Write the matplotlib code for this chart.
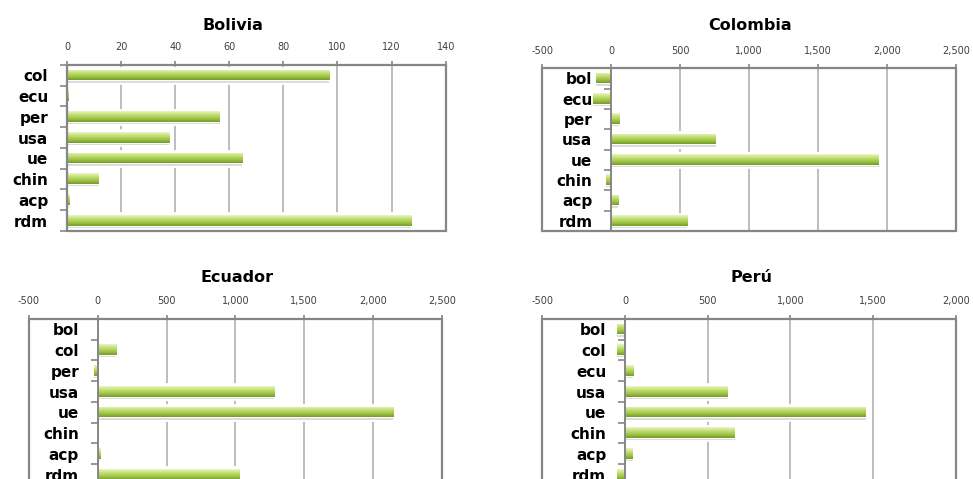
import matplotlib
matplotlib.use("Agg")
import matplotlib.pyplot as plt
import numpy as np
from matplotlib.colors import LinearSegmentedColormap
from matplotlib.patches import Rectangle
from matplotlib.ticker import FuncFormatter, FixedLocator, MultipleLocator

# ---- data ----
bolivia_cats = ["col", "ecu", "per", "usa", "ue", "chin", "acp", "rdm"]
bolivia_vals = [97, 0.5, 56.5, 37.8, 64.8, 11.7, 1.1, 127.2]

colombia_cats = ["bol", "ecu", "per", "usa", "ue", "chin", "acp", "rdm"]
colombia_vals = [-110, -130, 60, 760, 1943, -41, 51, 552]

ecuador_cats = ["bol", "col", "per", "usa", "ue", "chin", "acp", "rdm"]
ecuador_vals = [5, 131, -31, 1281, 2149, 3, 17, 1027]

peru_cats = ["bol", "col", "ecu", "usa", "ue", "chin", "acp", "rdm"]
peru_vals = [-50, -46, 50, 621, 1457, 665, 46, -50]

W, H = 973, 479
fig = plt.figure(figsize=(W / 100, H / 100), dpi=100)

cmap = LinearSegmentedColormap.from_list(
    "g", [(0, "#eaf5cc"), (0.3, "#c8e27a"), (0.7, "#9cc444"), (1, "#739a2c")])
grad = np.linspace(0, 1, 64).reshape(-1, 1)

FRAME = "#868686"
GRID = "#b8b8b8"


def fmt(v, pos):
    s = "{:,.0f}".format(abs(v))
    return ("-" + s) if v < 0 else s


def panel(px_left, px_top, px_right, px_bottom, cats, vals, xlim, step,
          title, title_xy):
    ax = fig.add_axes([px_left / W, 1 - px_bottom / H,
                       (px_right - px_left) / W, (px_bottom - px_top) / H])
    n = len(cats)
    y = np.arange(n)

    for s in ["top", "right", "bottom"]:
        ax.spines[s].set_visible(False)
    ax.spines["left"].set_position(("data", 0))
    ax.spines["left"].set_color(FRAME)
    ax.spines["left"].set_linewidth(1.4)
    ax.spines["left"].set_zorder(6)
    ax.add_patch(Rectangle((0, 0), 1, 1, transform=ax.transAxes, fill=False,
                           edgecolor=FRAME, lw=1.6, zorder=7, clip_on=False))

    # white glow behind bars, shadow, bars with gradient
    ax.barh(y, vals, height=0.7, color="white", zorder=2,
            edgecolor="white", linewidth=2)
    ax.barh(y + 0.32, vals, height=0.06, color="#dcdcdc", zorder=3)
    bars = ax.barh(y - 0.02, vals, height=0.52, color="#a8cf4c", zorder=4,
                   linewidth=0)
    for b in bars:
        x0, yb = b.get_x(), b.get_y()
        w, h = b.get_width(), b.get_height()
        if w == 0:
            continue
        im = ax.imshow(grad, cmap=cmap, aspect="auto", zorder=5,
                       extent=[min(x0, x0 + w), max(x0, x0 + w), yb + h, yb],
                       interpolation="bilinear")
        im.set_clip_path(b)

    ax.set_xlim(*xlim)
    ax.set_ylim(n - 0.5, -0.5)
    ax.xaxis.set_major_locator(MultipleLocator(step))
    ax.xaxis.set_major_formatter(FuncFormatter(fmt))
    ax.xaxis.tick_top()
    ax.tick_params(axis="x", which="major", length=3, width=1.2, color=FRAME,
                   labelsize=7, labelcolor="#404040", pad=6)
    ax.grid(axis="x", color=GRID, lw=1.3, zorder=0)
    ax.set_axisbelow(True)

    # category axis
    ax.yaxis.set_minor_locator(FixedLocator(np.arange(n + 1) - 0.5))
    ax.tick_params(axis="y", which="minor", length=5, width=1.2, color=FRAME)
    ax.tick_params(axis="y", which="major", length=0, pad=13.5)
    ax.set_yticks(y)
    ax.set_yticklabels(cats, fontsize=11, fontweight="bold", color="black")

    fig.text(title_xy[0] / W, 1 - title_xy[1] / H, title, ha="center",
             va="center", fontsize=11.5, fontweight="bold")
    return ax


panel(67, 65, 445.7, 231, bolivia_cats, bolivia_vals, (0, 140), 20,
      "Bolivia", (233, 25))
panel(542.3, 68.3, 955.7, 231, colombia_cats, colombia_vals, (-500, 2500), 500,
      "Colombia", (750, 25))
panel(29, 319, 441.7, 485, ecuador_cats, ecuador_vals, (-500, 2500), 500,
      "Ecuador", (237, 278))
panel(542.3, 319, 955.7, 485, peru_cats, peru_vals, (-500, 2000), 500,
      "Perú", (751, 278))

fig.savefig("out.png", dpi=100)
